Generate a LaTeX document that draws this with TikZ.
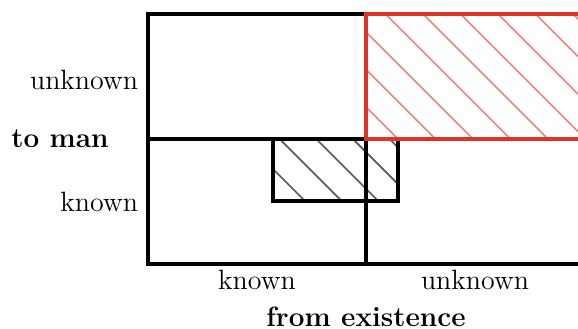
\documentclass[tikz,border=0pt]{standalone}
\usepackage{amsmath,amssymb}
\usepackage{xcolor}
\usepackage{tikz}
\definecolor{frame red}{RGB}{222,52,40}

\begin{document}
\begin{tikzpicture}[x=1.73cm, y=1.73cm, line width=1.2pt,
        axis text/.style={font=\fontsize{11}{13}\selectfont},
        axis title/.style={font=\fontsize{11}{13}\selectfont\bfseries}]
        \useasboundingbox (-1.184,-0.52) rectangle (3.44,2.112);
        \clip (-1.184,-0.52) rectangle (3.44,2.112);
        % hatching of the unknown-unknown quadrant
        \begin{scope}
            \clip (1.744,1) rectangle (3.488,2);
            \foreach \k in {0,...,9}
                \draw[frame red!60, line width=0.65pt] ({3+0.3*\k-2.2},2.2) -- ({3+0.3*\k-0.8},0.8);
        \end{scope}
        % hatching of the small box
        \begin{scope}
            \clip (1,0.504) rectangle (2,1);
            \foreach \k in {0,...,4}
                \draw[black!65, line width=0.65pt] ({1.76+0.293*\k-1.2},1.2) -- ({1.76+0.293*\k-0.3},0.3);
        \end{scope}
        % the four fields
        \draw (0,0) rectangle (3.488,2);
        \draw (0,1) -- (1.744,1);
        \draw (1.744,0) -- (1.744,1);
        \draw (1,0.504) rectangle (2,1);
        \draw[frame red] (1.744,1) rectangle (3.488,2);
        % labels
        \node[axis text, anchor=east] (man unknown) at (0,1.47) {unknown};
        \node[axis text, anchor=east] (man known) at (0,0.5) {known};
        \node[axis title] (to man) at (-0.704,1) {to man};
        \node[axis text, anchor=base] (ex known) at (0.872,-0.208) {known};
        \node[axis text, anchor=base] (ex unknown) at (2.616,-0.208) {unknown};
        \node[axis title, anchor=base] (from ex) at (1.744,-0.5) {from existence};
    \end{tikzpicture}
\end{document}
